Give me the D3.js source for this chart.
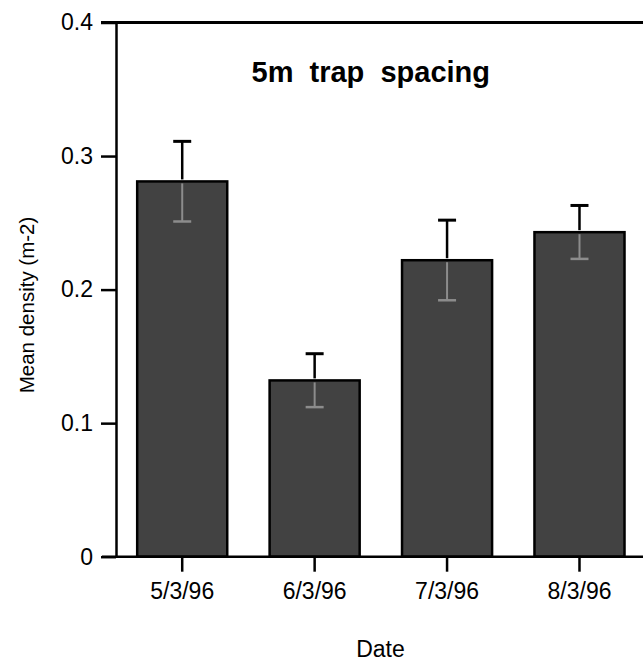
<!DOCTYPE html>
<html>
<head>
<meta charset="utf-8">
<script src="https://cdn.jsdelivr.net/npm/d3@7"></script>
<style>
  html, body { margin: 0; padding: 0; background: #fff; }
  svg { display: block; font-family: "Liberation Sans", Arial, Helvetica, sans-serif; }
</style>
</head>
<body>
<svg id="chart" width="643" height="660"></svg>
<script>
// ---- data ----
const categories = ["5/3/96", "6/3/96", "7/3/96", "8/3/96"];
const meanDensity = [0.281, 0.132, 0.222, 0.243];
const stdError = [0.030, 0.020, 0.030, 0.020];
const yTickValues = [0, 0.1, 0.2, 0.3, 0.4];
const yTickLabels = ["0", "0.1", "0.2", "0.3", "0.4"];
const titleText = "5m  trap  spacing";
const xLabel = "Date";
const yLabel = "Mean density (m-2)";

const svg = d3.select("#chart");

const y = d3.scaleLinear().domain([0, 0.4]).range([556.7, 22.5]);
const x = d3.scaleBand().domain(categories)
  .range([116, 645.7]).paddingInner(0.32).paddingOuter(0.16);

// bars
svg.append("g").selectAll("rect").data(categories).join("rect")
  .attr("x", d => x(d))
  .attr("y", (d, i) => y(meanDensity[i]))
  .attr("width", x.bandwidth())
  .attr("height", (d, i) => y(0) - y(meanDensity[i]))
  .attr("fill", "#424242")
  .attr("stroke", "#000")
  .attr("stroke-width", 2.5);

// error bars (upper: black above the bar; lower: light inside the bar)
const capW = 18;
const eb = svg.append("g");
categories.forEach((c, i) => {
  const cx = x(c) + x.bandwidth() / 2;
  const top = y(meanDensity[i] + stdError[i]);
  const mid = y(meanDensity[i]);
  const low = y(meanDensity[i] - stdError[i]);
  eb.append("line").attr("x1", cx).attr("x2", cx).attr("y1", top).attr("y2", mid - 2)
    .attr("stroke", "#000").attr("stroke-width", 2.5);
  eb.append("line").attr("x1", cx - capW / 2).attr("x2", cx + capW / 2).attr("y1", top).attr("y2", top)
    .attr("stroke", "#000").attr("stroke-width", 3);
  eb.append("line").attr("x1", cx).attr("x2", cx).attr("y1", mid + 2).attr("y2", low)
    .attr("stroke", "#8c8c8c").attr("stroke-width", 2);
  eb.append("line").attr("x1", cx - capW / 2).attr("x2", cx + capW / 2).attr("y1", low).attr("y2", low)
    .attr("stroke", "#8c8c8c").attr("stroke-width", 2.5);
});

// y axis
const yAxis = svg.append("g").attr("transform", "translate(116,0)")
  .call(d3.axisLeft(y).tickValues(yTickValues)
    .tickFormat((d, i) => yTickLabels[i])
    .tickSize(15).tickSizeOuter(0).tickPadding(8));
yAxis.attr("font-size", null).attr("font-family", null);
yAxis.select(".domain").attr("stroke-width", 2.5);
yAxis.selectAll(".tick line").attr("stroke-width", 2.5);
yAxis.selectAll(".tick text").attr("font-size", 23).attr("fill", "#000");

// top frame line continuing the 0.4 tick
svg.append("line").attr("x1", 101).attr("x2", 643)
  .attr("y1", y(0.4)).attr("y2", y(0.4))
  .attr("stroke", "#000").attr("stroke-width", 3);

// x axis
const xAxis = svg.append("g").attr("transform", `translate(0,${y(0)})`)
  .call(d3.axisBottom(x).tickSize(15).tickSizeOuter(0).tickPadding(11));
xAxis.attr("font-size", null).attr("font-family", null);
xAxis.select(".domain").remove();
xAxis.selectAll(".tick line").attr("stroke-width", 2.5);
xAxis.selectAll(".tick text").attr("font-size", 23).attr("fill", "#000");
svg.append("line").attr("x1", 102).attr("x2", 643)
  .attr("y1", y(0)).attr("y2", y(0))
  .attr("stroke", "#000").attr("stroke-width", 2.5);

// title
svg.append("text").attr("x", 251.5).attr("y", 81.7)
  .attr("font-size", 29).attr("font-weight", "bold")
  .style("white-space", "pre")
  .text(titleText);

// axis labels
svg.append("text").attr("x", 380.5).attr("y", 656.5)
  .attr("text-anchor", "middle").attr("font-size", 23)
  .text(xLabel);

svg.append("text").attr("transform", "translate(34,305) rotate(-90)")
  .attr("text-anchor", "middle").attr("font-size", 20.5)
  .text(yLabel);
</script>
</body>
</html>
